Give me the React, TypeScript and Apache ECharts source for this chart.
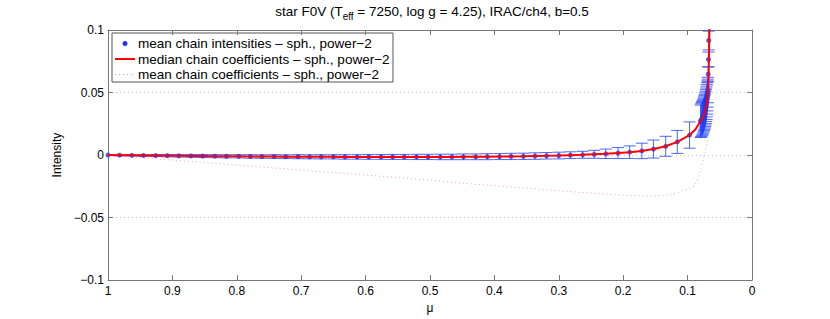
import React, { useEffect, useRef } from "react";
import * as echarts from "echarts";

// regular mu grid and mean chain intensities
const MU = [1.000, 0.982, 0.963, 0.945, 0.926, 0.908, 0.890, 0.871, 0.853, 0.834,
  0.816, 0.797, 0.779, 0.761, 0.742, 0.724, 0.705, 0.687, 0.669, 0.650,
  0.632, 0.613, 0.595, 0.576, 0.558, 0.540, 0.521, 0.503, 0.484, 0.466,
  0.448, 0.429, 0.411, 0.392, 0.374, 0.355, 0.337, 0.319, 0.300, 0.282,
  0.263, 0.245, 0.227, 0.208, 0.190, 0.171, 0.153, 0.134, 0.116, 0.097];
const MEAN_I = [0, -0.0001, -0.0002, -0.0003, -0.0004, -0.0005, -0.0006, -0.0007, -0.0008, -0.0009,
  -0.0010, -0.0010, -0.0011, -0.0012, -0.0012, -0.0013, -0.0013, -0.0014, -0.0014, -0.0014,
  -0.0015, -0.0015, -0.0015, -0.0015, -0.0015, -0.0015, -0.0015, -0.0015, -0.0015, -0.0015,
  -0.0014, -0.0014, -0.0013, -0.0012, -0.0011, -0.0010, -0.0008, -0.0006, -0.0004, -0.0001,
  0.0002, 0.0006, 0.0010, 0.0016, 0.0023, 0.0033, 0.0048, 0.0070, 0.0105, 0.0160];
const ERR = [0.0003, 0.0005, 0.0006, 0.0007, 0.0008, 0.0009, 0.0010, 0.0011, 0.0012, 0.0012,
  0.0013, 0.0013, 0.0014, 0.0014, 0.0015, 0.0015, 0.0016, 0.0016, 0.0017, 0.0017,
  0.0018, 0.0018, 0.0019, 0.0019, 0.0020, 0.0020, 0.0021, 0.0021, 0.0022, 0.0022,
  0.0023, 0.0023, 0.0024, 0.0024, 0.0025, 0.0025, 0.0026, 0.0026, 0.0027, 0.0027,
  0.0028, 0.0032, 0.0038, 0.0044, 0.0050, 0.0062, 0.0072, 0.0080, 0.0092, 0.0105];

// dense limb points
const LIMB_MU = [0.0800, 0.0790, 0.0780, 0.0772, 0.0765, 0.0757, 0.0750, 0.0744, 0.0738, 0.0732,
  0.0726, 0.0720, 0.0715, 0.0710, 0.0705, 0.0700, 0.0696, 0.0692, 0.0688, 0.0684,
  0.0680, 0.0676, 0.0672];
const LIMB_I = [0.0270, 0.0278, 0.0286, 0.0294, 0.0302, 0.0311, 0.0320, 0.0330, 0.0340, 0.0351,
  0.0362, 0.0375, 0.0388, 0.0402, 0.0418, 0.0435, 0.0453, 0.0473, 0.0495, 0.0520,
  0.0646, 0.0764, 0.0916];
const LIMB_ERR = [0.0130, 0.0132, 0.0134, 0.0135, 0.0135, 0.0135, 0.0135, 0.0135, 0.0135, 0.0135,
  0.0135, 0.0135, 0.0135, 0.0134, 0.0133, 0.0130, 0.0126, 0.0120, 0.0112, 0.0102,
  0.0060, 0.0060, 0.0075];

// median chain coefficients curve near the limb (continues MU/MEAN_I)
const MED_LIMB_MU = [0.088, 0.0807, 0.077, 0.075, 0.073, 0.0715, 0.070, 0.0688, 0.0680, 0.0675, 0.0670, 0.0665, 0.0660];
const MED_LIMB_C = [0.0205, 0.0265, 0.0295, 0.032, 0.0345, 0.038, 0.042, 0.047, 0.054, 0.062, 0.075, 0.09, 0.105];

// mean chain coefficients curve
const COEF_MU = [1.0, 0.9, 0.8, 0.7, 0.6, 0.5, 0.45, 0.4, 0.35, 0.3, 0.25, 0.2, 0.17, 0.14, 0.12, 0.10, 0.09, 0.084, 0.078, 0.072, 0.0683, 0.067, 0.0665, 0.0660];
const COEF_MEAN = [0, -0.004, -0.008, -0.012, -0.016, -0.020, -0.0225, -0.0245, -0.0265, -0.0285, -0.0305, -0.032, -0.0327, -0.0325, -0.031, -0.027, -0.025, -0.0186, -0.008, 0.004, 0.012, 0.05, 0.1, 0.105];

const X_TICKS = { min: 0, max: 1, interval: 0.1 };
const Y_TICKS = { min: -0.1, max: 0.1, interval: 0.05 };

const FONT = "Liberation Sans, Arial, Helvetica, sans-serif";
const AXIS_COLOR = "#777777";
const BAR_COLOR = "rgba(25,60,255,0.78)";

export default function App() {
  const ref = useRef<HTMLDivElement>(null);
  useEffect(() => {
    if (!ref.current) return;
    const chart = echarts.init(ref.current, undefined, { renderer: "svg" });

    const pts = MU.map((m, i) => [m, MEAN_I[i], ERR[i]]).concat(
      LIMB_MU.map((m, i) => [m, LIMB_I[i], LIMB_ERR[i]])
    );
    const medData = MU.map((m, i) => [m, MEAN_I[i]]).concat(
      MED_LIMB_MU.map((m, i) => [m, MED_LIMB_C[i]])
    );
    const coefData = COEF_MU.map((m, i) => [m, COEF_MEAN[i]]);

    const renderErr = (params: any, api: any) => {
      const x = api.value(0), y = api.value(1), e = api.value(2);
      const top = api.coord([x, y + e]);
      const bot = api.coord([x, y - e]);
      const hw = 6;
      const style = { stroke: BAR_COLOR, lineWidth: 1, fill: null };
      return {
        type: "group",
        children: [
          { type: "line", shape: { x1: top[0], y1: top[1], x2: bot[0], y2: bot[1] }, style },
          { type: "line", shape: { x1: top[0] - hw, y1: top[1], x2: top[0] + hw, y2: top[1] }, style },
          { type: "line", shape: { x1: bot[0] - hw, y1: bot[1], x2: bot[0] + hw, y2: bot[1] }, style },
        ],
      };
    };

    const fmtX = (v: number) => String(+v.toFixed(1));
    const fmtY = (v: number) => String(+v.toFixed(2)).replace("-", "\u2212");

    const axisCommon = {
      axisLine: { show: true, onZero: false, lineStyle: { color: AXIS_COLOR, width: 1 } },
      axisTick: { show: true, inside: true, length: 5, lineStyle: { color: AXIS_COLOR } },
    };

    const legendX = 112, legendY = 33;
    const LFS = 13.5;
    chart.setOption({
      animation: false,
      textStyle: { fontFamily: FONT },
      grid: { left: 108, right: 78, top: 30, bottom: 36, containLabel: false },
      xAxis: [
        {
          type: "value", inverse: true, ...X_TICKS,
          ...axisCommon,
          name: "\u03bc", nameLocation: "middle", nameGap: 20,
          nameTextStyle: { fontSize: 12, color: "#000", fontFamily: FONT },
          axisLabel: { formatter: fmtX, fontSize: 12, color: "#000", margin: 5, fontFamily: FONT },
          splitLine: { show: false },
        },
        {
          type: "value", inverse: true, position: "top", ...X_TICKS,
          ...axisCommon,
          axisLabel: { show: false }, splitLine: { show: false },
        },
      ],
      yAxis: [
        {
          type: "value", ...Y_TICKS,
          ...axisCommon,
          name: "Intensity", nameLocation: "middle", nameGap: 40,
          nameTextStyle: { fontSize: 12, color: "#000", fontFamily: FONT },
          axisLabel: { formatter: fmtY, fontSize: 12, color: "#000", margin: 4, fontFamily: FONT },
          splitLine: { show: true, lineStyle: { color: "#c8c8c8", type: [1, 3], width: 1 } },
        },
        {
          type: "value", position: "right", ...Y_TICKS,
          ...axisCommon,
          axisLabel: { show: false }, splitLine: { show: false },
        },
      ],
      series: [
        {
          type: "custom", renderItem: renderErr, data: pts, encode: { x: 0, y: 1 }, z: 2, clip: true,
        },
        {
          type: "line", data: coefData, showSymbol: false, symbol: "none", z: 3,
          lineStyle: { color: "#ff9e9e", width: 1, type: [1, 3] },
        },
        {
          type: "scatter", data: pts.map((p) => [p[0], p[1]]), symbolSize: 5, z: 4,
          itemStyle: { color: "#2036ee" },
        },
        {
          type: "line", data: medData, showSymbol: false, symbol: "none", z: 5,
          lineStyle: { color: "#ff0000", width: 2 },
        },
      ],
      graphic: [
        {
          type: "text",
          style: {
            x: 432, y: 11,
            text: "star F0V (T{sub|eff} = 7250, log g = 4.25), IRAC/ch4, b=0.5",
            fontSize: 13.5, fontFamily: FONT, fill: "#000",
            align: "center", verticalAlign: "middle",
            rich: { sub: { fontSize: 10, fontFamily: FONT, padding: [10, 0, 0, 0] } },
          },
        },
        {
          type: "group", z: 100,
          children: [
            { type: "rect", shape: { x: legendX, y: legendY, width: 281, height: 49 }, style: { fill: "#fff", stroke: "#555", lineWidth: 1 } },
            { type: "circle", shape: { cx: 125, cy: 43.5, r: 2.5 }, style: { fill: "#2036ee" } },
            { type: "line", shape: { x1: 115, y1: 59, x2: 135, y2: 59 }, style: { stroke: "#ff0000", lineWidth: 2 } },
            { type: "line", shape: { x1: 115, y1: 74.5, x2: 135, y2: 74.5 }, style: { stroke: "#ff9e9e", lineWidth: 1, lineDash: [1, 3] } },
            { type: "text", style: { x: 138, y: 43.5, text: "mean chain intensities \u2013 sph., power\u22122", fontSize: LFS, fontFamily: FONT, fill: "#000", verticalAlign: "middle" } },
            { type: "text", style: { x: 138, y: 59, text: "median chain coefficients \u2013 sph., power\u22122", fontSize: LFS, fontFamily: FONT, fill: "#000", verticalAlign: "middle" } },
            { type: "text", style: { x: 138, y: 74.5, text: "mean chain coefficients \u2013 sph., power\u22122", fontSize: LFS, fontFamily: FONT, fill: "#000", verticalAlign: "middle" } },
          ],
        },
      ],
    });
    return () => chart.dispose();
  }, []);
  return (
    <div
      ref={ref}
      style={{ position: "fixed", left: 0, top: 0, width: 830, height: 319, background: "#fff" }}
    />
  );
}
